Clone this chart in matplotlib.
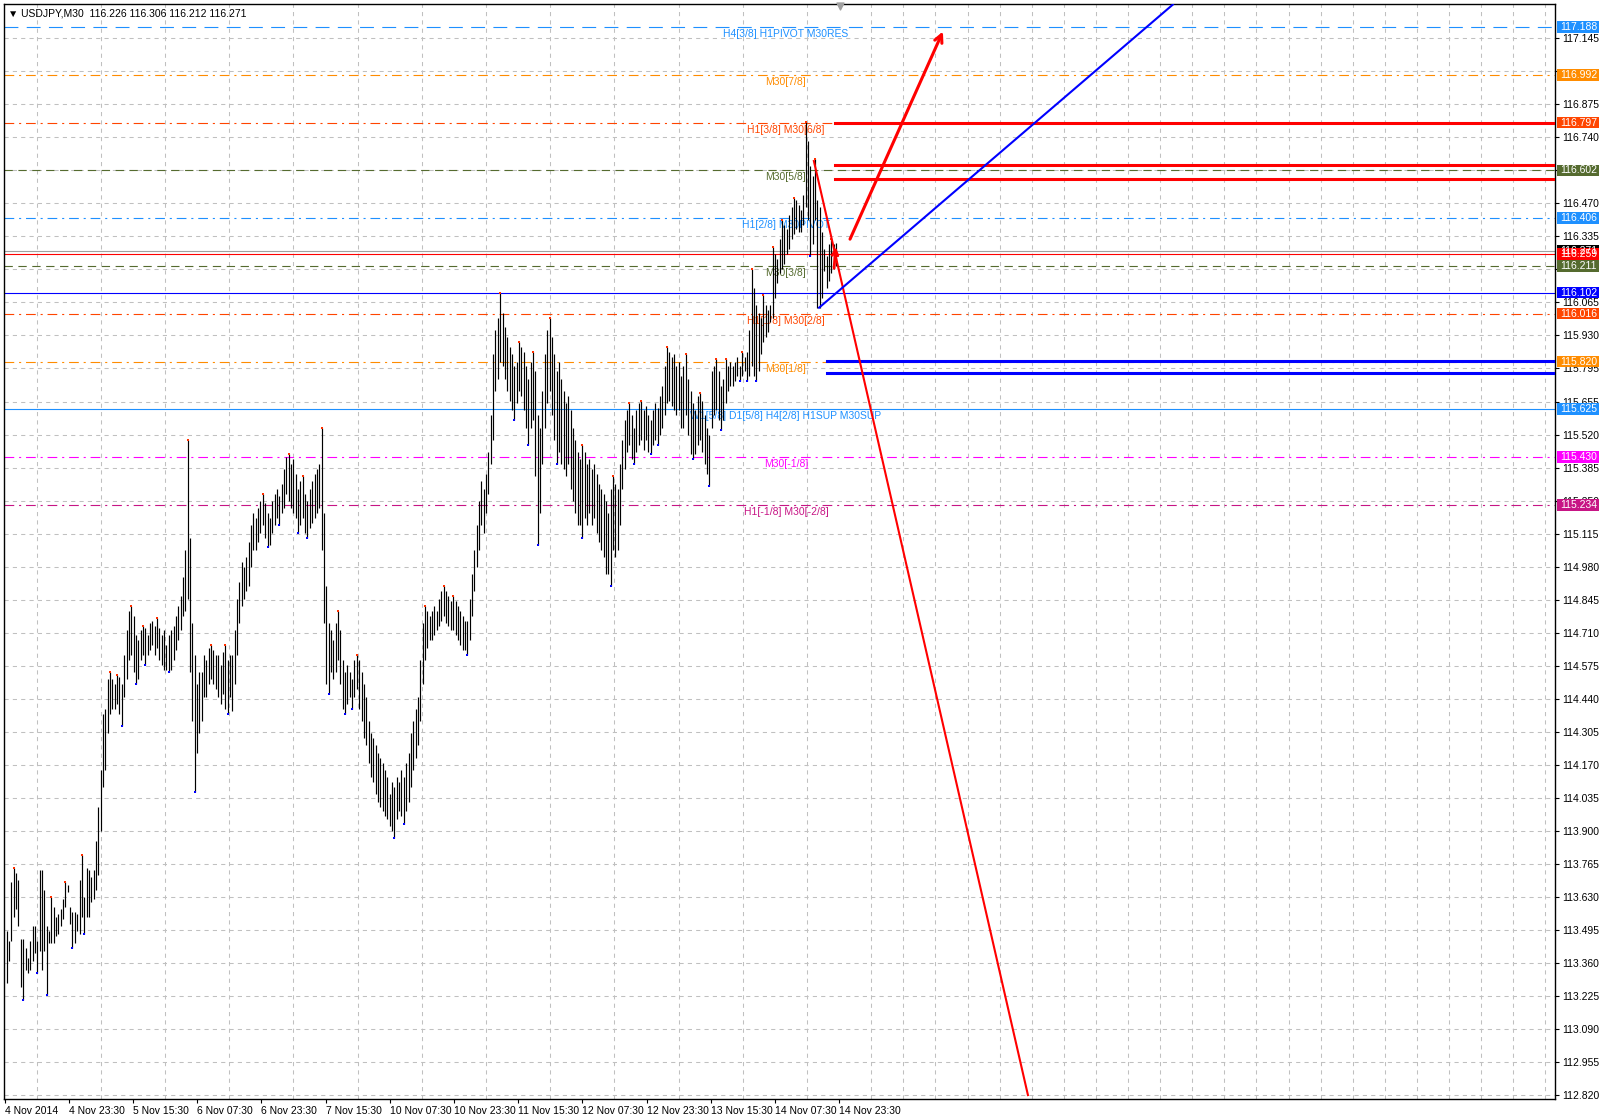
import numpy as np
import matplotlib.pyplot as plt
from matplotlib.patches import Rectangle
from matplotlib.transforms import blended_transform_factory

plt.rcParams['font.family'] = ['Liberation Sans', 'DejaVu Sans']
plt.rcParams['lines.scale_dashes'] = False

# USDJPY M30 bars (high / low)
highs = [
    113.49, 113.45, 113.69, 113.75, 113.73, 113.70, 113.46, 113.46, 113.42, 113.38,
    113.45, 113.51, 113.51, 113.45, 113.74, 113.74, 113.66, 113.51, 113.49, 113.63,
    113.59, 113.55, 113.56, 113.58, 113.62, 113.69, 113.68, 113.59, 113.57, 113.57,
    113.56, 113.70, 113.80, 113.63, 113.75, 113.74, 113.71, 113.74, 113.86, 114.00,
    114.15, 114.38, 114.40, 114.52, 114.55, 114.52, 114.50, 114.54, 114.53, 114.50,
    114.62, 114.72, 114.80, 114.82, 114.78, 114.70, 114.68, 114.72, 114.74, 114.73,
    114.70, 114.75, 114.76, 114.74, 114.77, 114.73, 114.70, 114.72, 114.66, 114.70,
    114.72, 114.74, 114.78, 114.82, 114.86, 114.94, 115.05, 115.50, 115.10, 114.75,
    114.62, 114.50, 114.55, 114.55, 114.62, 114.60, 114.65, 114.66, 114.64, 114.62,
    114.62, 114.58, 114.63, 114.66, 114.60, 114.62, 114.62, 114.72, 114.85, 114.92,
    115.00, 114.98, 115.02, 115.08, 115.15, 115.20, 115.18, 115.22, 115.25, 115.28,
    115.24, 115.20, 115.18, 115.25, 115.28, 115.30, 115.27, 115.32, 115.38, 115.43,
    115.44, 115.40, 115.42, 115.36, 115.30, 115.33, 115.35, 115.28, 115.25, 115.30,
    115.33, 115.36, 115.38, 115.40, 115.55, 115.20, 114.90, 114.75, 114.72, 114.68,
    114.75, 114.80, 114.72, 114.60, 114.55, 114.58, 114.55, 114.52, 114.60, 114.62,
    114.60, 114.55, 114.50, 114.45, 114.35, 114.30, 114.28, 114.25, 114.22, 114.20,
    114.18, 114.15, 114.12, 114.05, 114.10, 114.08, 114.12, 114.10, 114.15, 114.12,
    114.18, 114.22, 114.30, 114.35, 114.40, 114.45, 114.60, 114.75, 114.82, 114.80,
    114.78, 114.80, 114.82, 114.80, 114.85, 114.88, 114.90, 114.88, 114.86, 114.84,
    114.86, 114.84, 114.82, 114.80, 114.78, 114.76, 114.76, 114.85, 114.95, 115.05,
    115.15, 115.25, 115.33, 115.30, 115.36, 115.45, 115.60, 115.85, 115.95, 116.00,
    116.10, 116.02, 115.96, 115.92, 115.88, 115.85, 115.80, 115.82, 115.90, 115.88,
    115.86, 115.80, 115.75, 115.82, 115.86, 115.78, 115.60, 115.55, 115.70, 115.85,
    115.95, 116.00, 115.92, 115.85, 115.78, 115.82, 115.75, 115.70, 115.65, 115.68,
    115.62, 115.55, 115.50, 115.45, 115.42, 115.48, 115.45, 115.40, 115.42, 115.38,
    115.40, 115.36, 115.32, 115.30, 115.28, 115.25, 115.20, 115.30, 115.35, 115.32,
    115.30, 115.40, 115.50, 115.58, 115.62, 115.65, 115.60, 115.55, 115.62, 115.65,
    115.66, 115.62, 115.64, 115.60, 115.58, 115.62, 115.65, 115.63, 115.68, 115.72,
    115.80, 115.88, 115.86, 115.84, 115.85, 115.80, 115.82, 115.76, 115.80, 115.85,
    115.75, 115.70, 115.65, 115.62, 115.68, 115.69, 115.66, 115.60, 115.55, 115.52,
    115.78, 115.80, 115.83, 115.78, 115.72, 115.75, 115.83, 115.80, 115.82, 115.80,
    115.82, 115.84, 115.80, 115.86, 115.84, 115.86, 115.95, 116.20, 116.12, 116.05,
    116.02, 116.00, 116.09, 116.05, 116.03, 116.05, 116.29, 116.26, 116.24, 116.32,
    116.40, 116.38, 116.36, 116.42, 116.45, 116.49, 116.48, 116.46, 116.44, 116.50,
    116.80, 116.72, 116.62, 116.58, 116.65, 116.48, 116.45, 116.35, 116.28, 116.25,
    116.30, 116.32, 116.30, 116.306,
]
lows = [
    113.28, 113.37, 113.45, 113.55, 113.58, 113.51, 113.26, 113.21, 113.33, 113.32,
    113.33, 113.37, 113.40, 113.32, 113.41, 113.33, 113.41, 113.23, 113.44, 113.44,
    113.44, 113.47, 113.48, 113.51, 113.54, 113.59, 113.65, 113.52, 113.42, 113.44,
    113.49, 113.48, 113.55, 113.48, 113.55, 113.55, 113.61, 113.62, 113.66, 113.72,
    113.90, 114.08, 114.15, 114.30, 114.38, 114.40, 114.40, 114.42, 114.38, 114.33,
    114.45, 114.52, 114.60, 114.62, 114.55, 114.50, 114.52, 114.60, 114.62, 114.58,
    114.62, 114.64, 114.66, 114.62, 114.65, 114.60, 114.58, 114.56, 114.56, 114.55,
    114.56, 114.60, 114.64, 114.68, 114.72, 114.78, 114.80, 114.85, 114.55, 114.35,
    114.06, 114.22, 114.30, 114.35, 114.45, 114.45, 114.50, 114.52, 114.50, 114.48,
    114.45, 114.42, 114.46, 114.40, 114.38, 114.45, 114.39, 114.50, 114.62, 114.75,
    114.82, 114.85, 114.88, 114.90, 114.98, 115.05, 115.05, 115.08, 115.12, 115.15,
    115.10, 115.06, 115.07, 115.12, 115.15, 115.18, 115.15, 115.20, 115.22, 115.28,
    115.25, 115.22, 115.20, 115.18, 115.12, 115.15, 115.18, 115.12, 115.10, 115.14,
    115.16, 115.18, 115.20, 115.22, 115.05, 114.75, 114.50, 114.46, 114.55, 114.52,
    114.55, 114.60, 114.50, 114.40, 114.38, 114.42, 114.45, 114.40, 114.45, 114.48,
    114.40, 114.35, 114.28, 114.25, 114.18, 114.12, 114.10, 114.05, 114.02, 114.00,
    113.98, 113.96, 113.95, 113.92, 113.90, 113.87, 113.95, 113.98, 113.96, 113.93,
    113.98, 114.02, 114.08, 114.15, 114.20, 114.25, 114.35, 114.50, 114.60, 114.65,
    114.68, 114.68, 114.70, 114.72, 114.74, 114.76, 114.78, 114.75, 114.74, 114.72,
    114.72, 114.70, 114.68, 114.66, 114.64, 114.64, 114.62, 114.68, 114.78, 114.88,
    114.98, 115.05, 115.15, 115.12, 115.20, 115.28, 115.40, 115.50, 115.70, 115.75,
    115.82, 115.80, 115.75, 115.70, 115.66, 115.62, 115.58, 115.65, 115.70, 115.68,
    115.62, 115.55, 115.48, 115.55, 115.58, 115.35, 115.07, 115.20, 115.40, 115.55,
    115.65, 115.70, 115.60, 115.50, 115.40, 115.45, 115.40, 115.38, 115.35, 115.40,
    115.30, 115.25, 115.20, 115.15, 115.15, 115.10, 115.18, 115.15, 115.20, 115.15,
    115.18, 115.12, 115.08, 115.05, 115.02, 114.95, 114.95, 114.90, 115.05, 115.02,
    115.05, 115.15, 115.30, 115.38, 115.45, 115.48, 115.42, 115.40, 115.45, 115.48,
    115.50, 115.46, 115.50, 115.45, 115.44, 115.48, 115.50, 115.48, 115.52, 115.55,
    115.60, 115.65, 115.66, 115.64, 115.62, 115.60, 115.62, 115.55, 115.55, 115.60,
    115.52, 115.44, 115.42, 115.44, 115.48, 115.50, 115.45, 115.40, 115.36, 115.31,
    115.55, 115.60, 115.62, 115.58, 115.54, 115.58, 115.65, 115.70, 115.72, 115.72,
    115.74, 115.76, 115.74, 115.76, 115.78, 115.74, 115.76, 115.80, 115.76, 115.74,
    115.78, 115.85, 115.90, 115.92, 115.94, 115.98, 116.00, 116.08, 116.14, 116.18,
    116.20, 116.22, 116.26, 116.28, 116.32, 116.34, 116.36, 116.35, 116.35, 116.38,
    116.45, 116.40, 116.25, 116.30, 116.40, 116.04, 116.04, 116.08, 116.19, 116.12,
    116.15, 116.18, 116.20, 116.212,
]

# price scale labels as printed on the right axis ('' = covered by a level box)
y_ticks = [112.820, 112.955, 113.090, 113.225, 113.360, 113.495, 113.630, 113.765,
           113.900, 114.035, 114.170, 114.305, 114.440, 114.575, 114.710, 114.845,
           114.980, 115.115, 115.250, 115.385, 115.520, 115.655, 115.795, 115.930,
           116.065, 116.200, 116.335, 116.470, 116.605, 116.740, 116.875, 117.010,
           117.145]
hidden_ticks = [116.200, 116.605, 117.010]

# Murrey math levels
levels = [117.188, 116.992, 116.797, 116.602, 116.406, 116.211, 116.016, 115.820, 115.625, 115.430, 115.234]
level_names = ['H4[3/8] H1PIVOT M30RES', 'M30[7/8]', 'H1[3/8] M30[6/8]', 'M30[5/8]',
               'H1[2/8] M30PIVOT', 'M30[3/8]', 'H1[1/8] M30[2/8]', 'M30[1/8]',
               'W1[5/8] D1[5/8] H4[2/8] H1SUP M30SUP', 'M30[-1/8]', 'H1[-1/8] M30[-2/8]']
level_colors = ['#1E90FF', '#FF8C00', '#FF4500', '#556B2F', '#1E90FF', '#556B2F',
                '#FF4500', '#FF8C00', '#1E90FF', '#FF00FF', '#C71585']
level_styles = ['dash', 'dashdot', 'dashdot', 'dash2', 'dashdot', 'dash2',
                'dashdot', 'dashdot', 'solid', 'dashdot', 'dashdot']

# other drawn objects (bar index, price)
price_line = 116.271
red_line = 116.259
blue_line = 116.102
red_hlines = [116.797, 116.624, 116.566]
red_hstart = 352.4
blue_hlines = [115.823, 115.774]
blue_hstart = 349.0
red_trend = ([343.5, 434.6], [116.64, 112.82])
blue_trend = ([345.7, 496.3], [116.04, 117.28])
big_arrow = ((358.4, 116.31), (398.9, 117.18))
small_arrow = ((352.0, 116.19), (352.9, 116.30))

date_labels = ['4 Nov 2014', '4 Nov 23:30', '5 Nov 15:30', '6 Nov 07:30', '6 Nov 23:30',
               '7 Nov 15:30', '10 Nov 07:30', '10 Nov 23:30', '11 Nov 15:30', '12 Nov 07:30',
               '12 Nov 23:30', '13 Nov 15:30', '14 Nov 07:30', '14 Nov 23:30']

styles = {'dash': (0, (10, 6)), 'dash2': (0, (6, 4)),
          'dashdot': (0, (7, 3.5, 1.5, 3.5)), 'solid': '-'}

fig = plt.figure(figsize=(16, 11.18), dpi=100)
ax = fig.add_axes([0.0025, 0.017, 0.969375, 0.9794])
ax.set_xlim(-1.15, 658.9)
ax.set_ylim(112.804, 117.282)
ax.set_axisbelow(True)

# axes / grid
ax.yaxis.tick_right()
ax.set_yticks(y_ticks)
ax.set_yticklabels(['' if v in hidden_ticks else f'{v:.3f}' for v in y_ticks], fontsize=7.5)
xt = -0.9 + 27.32 * np.arange(len(date_labels))
ax.set_xticks(xt)
ax.set_xticklabels(date_labels, fontsize=7.5, ha='left')
ax.set_xticks(-0.9 + 13.66 * np.arange(49), minor=True)
ax.tick_params(axis='x', which='minor', length=0)
ax.tick_params(axis='both', which='major', length=3, width=0.8, pad=2)
ax.grid(axis='y', color='#c0c0c0', ls=(0, (3, 3)), lw=0.75)
ax.grid(axis='x', which='minor', color='#c0c0c0', ls=(0, (3, 3)), lw=0.75)
for s in ax.spines.values():
    s.set_linewidth(1)

# levels
trans = blended_transform_factory(ax.transAxes, ax.transData)
for lv, nm, c, st in zip(levels, level_names, level_colors, level_styles):
    ax.axhline(lv, color=c, ls=styles[st], lw=0.8, zorder=2)
    ax.text(331.6, lv - 0.029, nm, color=c, fontsize=7.5, ha='center', va='center', zorder=2)

ax.axhline(price_line, color='#a0a0a0', lw=0.8, zorder=2)
ax.axhline(red_line, color='red', lw=0.8, zorder=2)
ax.axhline(blue_line, color='#0000FF', lw=0.8, zorder=2)

# bars
x = np.arange(len(highs))
ax.vlines(x, lows, highs, color='black', lw=0.85, zorder=3)

# fractal dots
h = np.array(highs)
l = np.array(lows)
up = [i for i in range(2, len(h) - 2) if h[i] == h[i - 2:i + 3].max() and h[i] > h[i - 1] and h[i] > h[i + 1]]
dn = [i for i in range(2, len(l) - 2) if l[i] == l[i - 2:i + 3].min() and l[i] < l[i - 1] and l[i] < l[i + 1]]
ax.scatter(up, h[up], marker='s', s=3.5, color='#ff3000', linewidths=0, zorder=4)
ax.scatter(dn, l[dn], marker='s', s=3.5, color='#0000ff', linewidths=0, zorder=4)

# manual lines
for lv in red_hlines:
    ax.plot([red_hstart, 700], [lv, lv], color='red', lw=2.2, zorder=4)
for lv in blue_hlines:
    ax.plot([blue_hstart, 700], [lv, lv], color='#0000FF', lw=2.2, zorder=4)
ax.plot(*red_trend, color='red', lw=1.5, zorder=4)
ax.plot(*blue_trend, color='#0000FF', lw=1.5, zorder=4)
ax.annotate('', xy=big_arrow[1], xytext=big_arrow[0],
            arrowprops=dict(arrowstyle='->', color='red', lw=2.2, mutation_scale=14), zorder=5)
ax.annotate('', xy=small_arrow[1], xytext=small_arrow[0],
            arrowprops=dict(arrowstyle='->', color='red', lw=2.0, mutation_scale=10), zorder=5)

# right price boxes
boxes = list(zip(levels, level_colors)) + [(price_line, 'black'), (red_line, '#FF0000'), (blue_line, '#0000FF')]
for lv, c in boxes:
    ax.add_patch(Rectangle((1.0013, lv - 0.0235), 0.0268, 0.047, transform=trans,
                           fc=c, ec='none', clip_on=False, zorder=6))
    ax.text(1.0035, lv, f'{lv:.3f}', transform=trans, color='white', fontsize=7.5,
            va='center', ha='left', clip_on=False, zorder=7)

# header
ax.text(0.0026, 0.9918, '\u25bc USDJPY,M30  116.226 116.306 116.212 116.271',
        transform=ax.transAxes, fontsize=7.5, va='center', ha='left')
ax.scatter([354.6], [117.272], marker='v', color='#a0a0a0', s=25, zorder=5, clip_on=False)

fig.savefig('out.png', dpi=100)
